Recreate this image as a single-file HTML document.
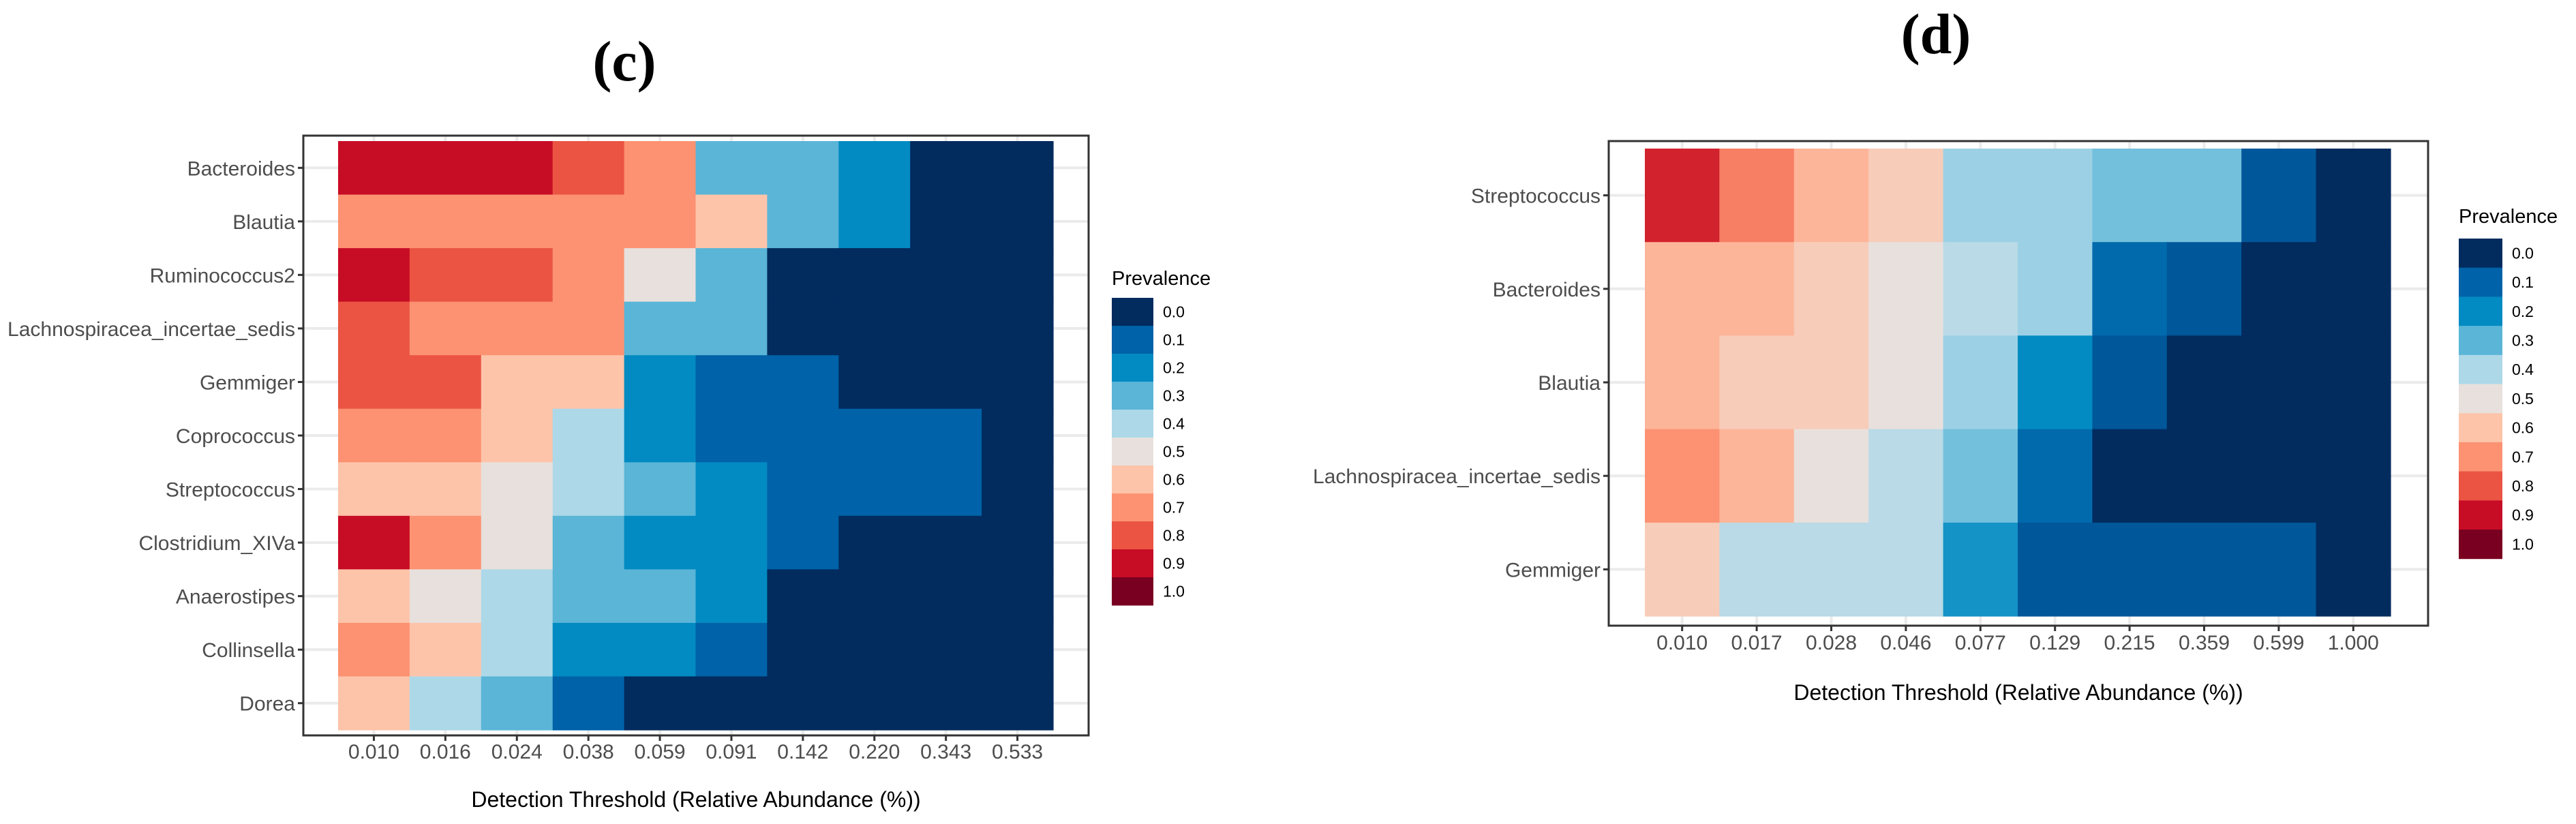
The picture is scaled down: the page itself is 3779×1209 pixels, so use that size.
<!DOCTYPE html>
<html><head><meta charset="utf-8"><style>
body{margin:0;background:#fff}
svg text{font-family:"Liberation Sans",sans-serif}
</style></head><body>
<svg id="s" width="3779" height="1204" xmlns="http://www.w3.org/2000/svg">
<rect width="3779" height="1204" fill="#fff"/>
<text x="916" y="118" font-weight="bold" font-size="84" text-anchor="middle" style="font-family:'Liberation Serif',serif">(c)</text>
<text x="2840" y="78" font-weight="bold" font-size="84" text-anchor="middle" style="font-family:'Liberation Serif',serif">(d)</text>
<g id="gc"></g>
<g id="gd"></g>
</svg>
<script>
const catsC=["Bacteroides","Blautia","Ruminococcus2","Lachnospiracea_incertae_sedis","Gemmiger","Coprococcus","Streptococcus","Clostridium_XIVa","Anaerostipes","Collinsella","Dorea"];
const ticksC=["0.010","0.016","0.024","0.038","0.059","0.091","0.142","0.220","0.343","0.533"];
const valsC=[
[.9,.9,.9,.8,.7,.3,.3,.2,0,0],
[.7,.7,.7,.7,.7,.6,.3,.2,0,0],
[.9,.8,.8,.7,.5,.3,0,0,0,0],
[.8,.7,.7,.7,.3,.3,0,0,0,0],
[.8,.8,.6,.6,.2,.1,.1,0,0,0],
[.7,.7,.6,.4,.2,.1,.1,.1,.1,0],
[.6,.6,.5,.4,.3,.2,.1,.1,.1,0],
[.9,.7,.5,.3,.2,.2,.1,0,0,0],
[.6,.5,.4,.3,.3,.2,0,0,0,0],
[.7,.6,.4,.2,.2,.1,0,0,0,0],
[.6,.4,.3,.1,0,0,0,0,0,0]];
const catsD=["Streptococcus","Bacteroides","Blautia","Lachnospiracea_incertae_sedis","Gemmiger"];
const ticksD=["0.010","0.017","0.028","0.046","0.077","0.129","0.215","0.359","0.599","1.000"];
const valsD=[
[.87,.73,.63,.57,.38,.38,.33,.33,.08,0],
[.63,.63,.57,.5,.42,.38,.12,.08,0,0],
[.63,.57,.57,.5,.38,.2,.08,0,0,0],
[.7,.63,.5,.42,.33,.12,0,0,0,0],
[.57,.42,.42,.42,.22,.08,.08,.08,.08,0]];
const legendVals=[0,.1,.2,.3,.4,.5,.6,.7,.8,.9,1];
const stops=["#022b5e","#0062a8","#028bc2","#5ab5d7","#add8e8","#e8e0dc","#fdc4aa","#fc9272","#eb5443","#c70d25","#7a0021"];
function hex(c){return [1,3,5].map(i=>parseInt(c.substr(i,2),16));}
function color(v){v=Math.max(0,Math.min(1,v));const p=v*10,i=Math.min(9,Math.floor(p)),t=p-i;
 const a=hex(stops[i]),b=hex(stops[i+1]);return "rgb("+a.map((x,k)=>Math.round(x+(b[k]-x)*t)).join(",")+")";}
const NS="http://www.w3.org/2000/svg";
function el(g,tag,at,txt){const e=document.createElementNS(NS,tag);for(const k in at)e.setAttribute(k,at[k]);if(txt!==undefined)e.textContent=txt;g.appendChild(e);return e;}
function draw(gid,cats,ticks,vals,L){
 const g=document.getElementById(gid);
 const nC=ticks.length,nR=cats.length;
 const cw=(L.tx1-L.tx0)/nC,rh=(L.ty1-L.ty0)/nR;
 const xs=i=>L.tx0+cw*(i+0.5), ys=j=>L.ty0+rh*(j+0.5);
 for(let j=0;j<nR;j++){const gl=el(g,"line",{x1:L.px0,x2:L.px1,y1:ys(j),y2:ys(j),stroke:"#ebebeb","stroke-width":4});
  }
 for(let i=0;i<nC;i++){const gl=el(g,"line",{x1:xs(i),x2:xs(i),y1:L.py0,y2:L.py1,stroke:"#ebebeb","stroke-width":4});
  }
 for(let j=0;j<nR;j++)for(let i=0;i<nC;i++){
  const r=el(g,"rect",{x:L.tx0+cw*i,y:L.ty0+rh*j,width:cw+0.6,height:rh+0.6,fill:color(vals[j][i])});
  }
 const b=el(g,"rect",{x:L.px0,y:L.py0,width:L.px1-L.px0,height:L.py1-L.py0,fill:"none",stroke:"#333","stroke-width":3});
 
 for(let j=0;j<nR;j++){
  el(g,"line",{x1:L.px0-8,x2:L.px0,y1:ys(j),y2:ys(j),stroke:"#333","stroke-width":3});
  const t=el(g,"text",{x:L.px0-12,y:ys(j)+11,"font-size":30,fill:"#4d4d4d","text-anchor":"end"},cats[j]);
  }
 for(let i=0;i<nC;i++){
  el(g,"line",{x1:xs(i),x2:xs(i),y1:L.py1,y2:L.py1+8,stroke:"#333","stroke-width":3});
  const t=el(g,"text",{x:xs(i),y:L.xty,"font-size":30,fill:"#4d4d4d","text-anchor":"middle"},ticks[i]);
  }
 const at=el(g,"text",{x:(L.px0+L.px1)/2,y:L.aty,"font-size":32,fill:"#000","text-anchor":"middle"},"Detection Threshold (Relative Abundance (%))");
 
 const lt=el(g,"text",{x:L.lx,y:L.lty,"font-size":29,fill:"#000"},"Prevalence");
 
 legendVals.forEach((v,k)=>{
  const r=el(g,"rect",{x:L.lx,y:L.ly0+L.lh*k,width:L.lw,height:L.lh+0.5,fill:color(v)});
  
  const t=el(g,"text",{x:L.lx+L.lw+14,y:L.ly0+L.lh*k+L.lh/2+8,"font-size":23,fill:"#000"},v.toFixed(1));
  });
}
draw("gc",catsC,ticksC,valsC,{px0:445,px1:1597,py0:199,py1:1079,tx0:496,tx1:1545,ty0:207,ty1:1071,xty:1113,aty:1184,lx:1631,lty:418,ly0:437,lh:41,lw:61});
draw("gd",catsD,ticksD,valsD,{px0:2360,px1:3562,py0:207,py1:918,tx0:2413,tx1:3507,ty0:218,ty1:904,xty:953,aty:1027,lx:3607,lty:327,ly0:350,lh:42.7,lw:64});
</script>
</body></html>
